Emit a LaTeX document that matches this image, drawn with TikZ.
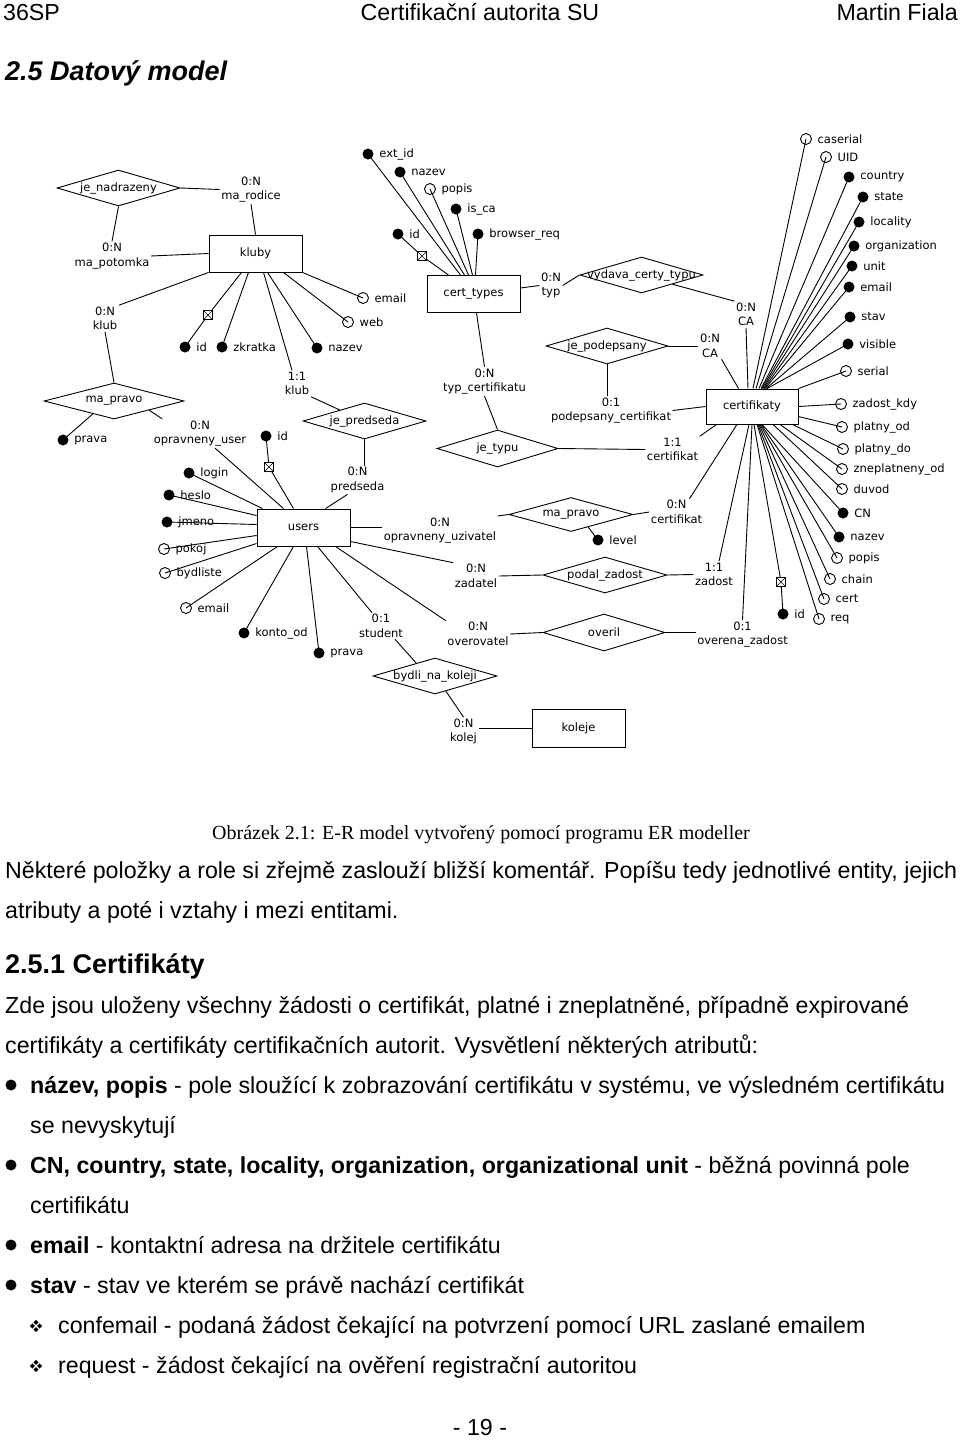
\documentclass[tikz,border=0pt]{standalone}
\usepackage{fontspec}
\setmainfont{Liberation Sans}
\newfontfamily\dgfont{DejaVu Sans}
\newfontfamily\capfont{Liberation Serif}
\usetikzlibrary{shapes.geometric,calc}
\newcommand\bt{\fontsize{23.2}{27}\selectfont}
\begin{document}
\begin{tikzpicture}[x=1pt,y=-1pt,
  dg/.style={font=\dgfont\fontsize{11.5}{14.5}\selectfont},
  ln/.style={line width=0.9},
  ent/.style={draw, line width=0.9, minimum width=93, minimum height=37, inner sep=0, dg},
  rel/.style={diamond, draw, line width=0.9, minimum width=123, minimum height=36, inner sep=0, label={[dg, inner sep=0]center:#1}},
  card/.style={dg, align=center, inner sep=1.5},
  fatt/.style={circle, fill, minimum size=11, inner sep=0, label={[dg, inner sep=0.5, xshift=5]right:#1}},
  oatt/.style={circle, draw, line width=0.9, minimum size=11, inner sep=0, label={[dg, inner sep=0.5, xshift=5]right:#1}},
  keyb/.style={draw, line width=0.8, fill=white, minimum size=9, inner sep=0, path picture={\draw[line width=0.6] (path picture bounding box.north west) -- (path picture bounding box.south east) (path picture bounding box.north east) -- (path picture bounding box.south west);}},
  bul/.style={circle, fill, minimum size=11, inner sep=0},
  dbul/.style={diamond, fill, minimum size=12.5, inner sep=0},
  txt/.style={anchor=base west, inner sep=0, font=\bt}
]
\useasboundingbox (0,0) rectangle (960,1440);

% ---------- header ----------
\node[txt] (h1) at (3,20) {36SP};
\node[txt, anchor=base] (h2) at (480,20) {Certifikační autorita SU};
\node[txt, anchor=base east] (h3) at (958,20) {Martin Fiala};
\node[txt, font=\fontsize{27}{30}\selectfont\bfseries\itshape] (h4) at (5,80) {2.5 Datový model};

% ---------- entities ----------
\node[ent] (kluby) at (255.5,253.5) {kluby};
\node[ent] (users) at (303.5,527.5) {users};
\node[ent] (ct) at (473.5,294) {cert\_types};
\node[ent, minimum width=92, minimum height=35] (cert) at (752,406.5) {certifikaty};
\node[ent, minimum height=38] (koleje) at (578.5,728) {koleje};

% ---------- relationships ----------
\node[rel=je\_nadrazeny] (jn) at (118.5,188) {};
\node[rel=ma\_pravo, minimum width=140] (mp1) at (114,401) {};
\node[rel=je\_predseda] (jpr) at (364.5,421) {};
\node[rel=je\_typu, minimum width=121, minimum height=37] (jt) at (497.5,448.5) {};
\node[rel=vydava\_certy\_typu] (vd) at (641.5,275) {};
\node[rel=je\_podepsany, minimum width=122] (jp) at (607,346) {};
\node[rel=ma\_pravo, minimum width=124, minimum height=34] (mp2) at (571,514.5) {};
\node[rel=podal\_zadost, minimum width=124] (pz) at (605,575) {};
\node[rel=overil, minimum width=122, minimum height=37] (ov) at (604,632.5) {};
\node[rel=bydli\_na\_koleji, minimum width=124] (bn) at (435,676) {};

% ---------- cardinalities ----------
\node[card] (crod) at (251,189.5) {0:N\\ma\_rodice};
\node[card] (cpot) at (112,256) {0:N\\ma\_potomka};
\node[card] (ckl1) at (105,318.5) {0:N\\klub};
\node[card] (cousr) at (200,433.5) {0:N\\opravneny\_user};
\node[card] (ckl2) at (297,383.5) {1:1\\klub};
\node[card] (cpred) at (357.5,480) {0:N\\predseda};
\node[card] (couz) at (440,530.5) {0:N\\opravneny\_uzivatel};
\node[card] (czad) at (476,576) {0:N\\zadatel};
\node[card] (cstud) at (381,626) {0:1\\student};
\node[card] (cover) at (478,634) {0:N\\overovatel};
\node[card] (ckolej) at (463.5,731.5) {0:N\\kolej};
\node[card] (ctypc) at (484.5,381.5) {0:N\\typ\_certifikatu};
\node[card] (ctyp) at (551,285.5) {0:N\\typ};
\node[card] (cca1) at (746,314.5) {0:N\\CA};
\node[card] (cca2) at (710,346) {0:N\\CA};
\node[card] (cpodc) at (611,410.5) {0:1\\podepsany\_certifikat};
\node[card] (ccert1) at (672.5,449.5) {1:1\\certifikat};
\node[card] (ccert0) at (676.5,512) {0:N\\certifikat};
\node[card] (czadost) at (714,574.5) {1:1\\zadost};
\node[card] (coz) at (742.5,634.5) {0:1\\overena\_zadost};

% ---------- attributes ----------
\node[fatt=prava] (mprav) at (63,440) {};
% kluby
\node[fatt=id] (kid) at (185,347) {};
\node[keyb] (kidk) at (208,315) {};
\node[fatt=zkratka] (kzk) at (222,347) {};
\node[fatt=nazev] (knaz) at (317,348) {};
\node[oatt=web] (kweb) at (348,322) {};
\node[oatt=email] (kem) at (363,298) {};
% users
\node[fatt=id] (uid) at (266,436) {};
\node[keyb] (uidk) at (269,467) {};
\node[fatt=login] (ulog) at (189,473) {};
\node[fatt=heslo] (uhes) at (169,495) {};
\node[fatt=jmeno] (ujm) at (167,522) {};
\node[oatt=pokoj] (upok) at (164,549) {};
\node[oatt=bydliste] (ubyd) at (165,573) {};
\node[oatt=email] (uem) at (186,608) {};
\node[fatt=konto\_od] (ukon) at (244,633) {};
\node[fatt=prava] (upr) at (319,653) {};
% ma_pravo 2
\node[fatt=level] (lvl) at (598,540) {};
% cert_types
\node[fatt=ext\_id] (ctext) at (368,154) {};
\node[fatt=nazev] (ctnaz) at (400,172) {};
\node[oatt=popis] (ctpop) at (430,189) {};
\node[fatt=is\_ca] (ctis) at (456,209) {};
\node[fatt=browser\_req] (ctbr) at (478,234) {};
\node[fatt=id] (ctid) at (398,234) {};
\node[keyb] (ctidk) at (422,256) {};
% certifikaty
\node[oatt=caserial] (acas) at (806,139) {};
\node[oatt=UID] (auid) at (826,157) {};
\node[fatt=country] (acou) at (849,177) {};
\node[fatt=state] (asta) at (863,197) {};
\node[fatt=locality] (aloc) at (859,222) {};
\node[fatt=organization] (aorg) at (854,246) {};
\node[fatt=unit] (auni) at (852,266) {};
\node[fatt=email] (aema) at (849,287) {};
\node[fatt=stav] (asta2) at (850,317) {};
\node[fatt=visible] (avis) at (848,344) {};
\node[oatt=serial] (aser) at (846,371) {};
\node[oatt=zadost\_kdy] (azk) at (841,404) {};
\node[oatt=platny\_od] (apod) at (842,427) {};
\node[oatt=platny\_do] (apdo) at (843,449) {};
\node[oatt=zneplatneny\_od] (azn) at (842,469) {};
\node[oatt=duvod] (aduv) at (842,489) {};
\node[fatt=CN] (acn) at (843,513) {};
\node[fatt=nazev] (anaz) at (839,537) {};
\node[oatt=popis] (apop) at (837,558) {};
\node[oatt=chain] (achn) at (830,579) {};
\node[oatt=cert] (acrt) at (824,599) {};
\node[oatt=req] (areq) at (819,619) {};
\node[fatt=id] (aid) at (783,614) {};
\node[keyb] (aidk) at (781,582) {};

% ---------- connectors ----------
\begin{scope}[ln]
\draw (jn.east) -- (crod.west);
\draw (crod.south) -- (kluby.north);
\draw (jn.south) -- (cpot.north);
\draw (cpot.east) -- (kluby.west);
\draw (kluby.south west) -- (ckl1.north east);
\draw (ckl1.south) -- (mp1.north);
\draw ($(mp1.west)!0.7!(mp1.south)$) -- (mprav.center);
\draw (mp1.south east) -- ($(cousr.north west)+(10,0)$);
\draw ($(cousr.south)+(15,0)$) -- ($(users.north)+(-20,0)$);
% kluby
\draw (kid.center) -- (kidk) -- ($(kluby.south)+(-14,0)$);
\draw (kzk.center) -- ($(kluby.south)+(-7,0)$);
\draw (knaz.center) -- ($(kluby.south)+(12,0)$);
\draw (kweb.center) -- ($(kluby.south)+(28,0)$);
\draw (kem.center) -- (kluby.south east);
\draw ($(kluby.south)+(8,0)$) -- ($(ckl2.north)+(-5,0)$);
\draw (ckl2.south east) -- ($(jpr.north west)!0.2!(jpr.north)$);
\draw (jpr.south) -- (jpr.south |- cpred.north);
\draw ($(cpred.south)+(-10,0)$) -- ($(users.north)+(22,0)$);
% users
\draw (uid.center) -- (uidk) -- ($(users.north)+(-10,0)$);
\draw (ulog.center) -- ($(users.north west)+(6,0)$);
\draw (uhes.center) -- ($(users.west)+(0,-12)$);
\draw (ujm.center) -- ($(users.west)+(0,-3)$);
\draw (upok.center) -- ($(users.west)+(0,8)$);
\draw (ubyd.center) -- ($(users.west)+(0,16)$);
\draw (uem.center) -- ($(users.south)+(-26,0)$);
\draw (ukon.center) -- ($(users.south)+(-10,0)$);
\draw (upr.center) -- ($(users.south)+(3,0)$);
\draw (users.east) -- (couz.west |- users.east);
\draw (couz.north east) -- (mp2.west);
\draw ($(users.east)+(0,14)$) -- (czad.north west);
\draw (czad.east) -- (pz.west);
\draw ($(users.south)+(14,0)$) -- ($(cstud.north)+(-9,0)$);
\draw ($(cstud.south)+(14,0)$) -- ($(bn.north)!0.6!(bn.north west)$);
\draw ($(bn.south)!0.35!(bn.south east)$) -- (ckolej.north);
\draw (ckolej.east |- koleje.west) -- (koleje.west);
\draw ($(users.south)+(32,0)$) -- (cover.north west);
\draw (cover.east) -- (ov.west);
% relationships to certifikaty
\draw ($(mp2.south)!0.55!(mp2.south east)$) -- (lvl.center);
\draw (mp2.east) -- (ccert0.west);
\draw ($(ccert0.north)+(13,0)$) -- ($(cert.south)+(-15,0)$);
\draw (pz.east) -- (czadost.west);
\draw ($(czadost.north)+(5,0)$) -- ($(cert.south)+(-3,0)$);
\draw (ov.east) -- (coz.west |- ov.east);
\draw (coz.north) -- (cert.south);
% cert_types
\draw (ctid.center) -- (ctidk) -- ($(ct.north)+(-25,0)$);
\draw (ctext.center) -- ($(ct.north)+(-13,0)$);
\draw (ctnaz.center) -- ($(ct.north)+(-9,0)$);
\draw (ctpop.center) -- ($(ct.north)+(-5,0)$);
\draw (ctis.center) -- ($(ct.north)+(-1,0)$);
\draw (ctbr.center) -- ($(ct.north)+(2,0)$);
\draw ($(ct.south)+(3,0)$) -- (ctypc.north);
\draw (ctypc.south) -- (jt.north);
\draw ($(ct.east)+(0,-6)$) -- (ctyp.west);
\draw (ctyp.east) -- (vd.west);
\draw (vd.south east) -- (cca1.north west);
\draw (cca1.south) -- ($(cert.north)+(-4,0)$);
\draw (jp.east) -- (cca2.west);
\draw (cca2.south east) -- ($(cert.north west)+(33,0)$);
\draw (jp.south) -- (jp.south |- cpodc.north);
\draw (cpodc.east) -- (cert.west);
\draw (jt.east) -- (ccert1.west);
\draw (ccert1.north east) -- ($(cert.south west)+(11,0)$);
% certifikaty attributes
\draw (acas.center) -- ($(cert.north)+(1,0)$);
\draw (auid.center) -- ($(cert.north)+(4,0)$);
\draw (acou.center) -- ($(cert.north)+(7,0)$);
\draw (asta.center) -- ($(cert.north)+(9,0)$);
\draw (aloc.center) -- ($(cert.north)+(10,0)$);
\draw (aorg.center) -- ($(cert.north)+(11,0)$);
\draw (auni.center) -- ($(cert.north)+(12,0)$);
\draw (aema.center) -- ($(cert.north)+(13,0)$);
\draw (asta2.center) -- ($(cert.north)+(14,0)$);
\draw (avis.center) -- ($(cert.north)+(15,0)$);
\draw (aser.center) -- (cert.north east);
\draw (azk.center) -- (cert.east);
\draw (apod.center) -- ($(cert.east)+(0,10)$);
\draw (apdo.center) -- ($(cert.south east)+(-6,0)$);
\draw (azn.center) -- ($(cert.south)+(28,0)$);
\draw (aduv.center) -- ($(cert.south)+(21,0)$);
\draw (acn.center) -- ($(cert.south)+(10,0)$);
\draw (anaz.center) -- ($(cert.south)+(9,0)$);
\draw (apop.center) -- ($(cert.south)+(8,0)$);
\draw (achn.center) -- ($(cert.south)+(7,0)$);
\draw (acrt.center) -- ($(cert.south)+(6,0)$);
\draw (areq.center) -- ($(cert.south)+(5,0)$);
\draw (aid.center) -- (aidk) -- ($(cert.south)+(2,0)$);
\end{scope}

% ---------- caption and text ----------
\node[anchor=base, inner sep=0, font=\capfont\fontsize{20}{24}\selectfont] (cap) at (481,839) {Obrázek 2.1: E-R model vytvořený pomocí programu ER modeller};
\node[txt] (t1) at (5,878) {Některé položky a role si zřejmě zaslouží bližší komentář. Popíšu tedy jednotlivé entity, jejich};
\node[txt] (t2) at (5,918) {atributy a poté i vztahy i mezi entitami.};
\node[txt, font=\fontsize{27}{30}\selectfont\bfseries] (t3) at (5,973) {2.5.1 Certifikáty};
\node[txt] (t4) at (5,1013) {Zde jsou uloženy všechny žádosti o certifikát, platné i zneplatněné, případně expirované};
\node[txt] (t5) at (5,1053) {certifikáty a certifikáty certifikačních autorit. Vysvětlení některých atributů:};
\node[bul] (b1) at (11,1085) {};
\node[txt] (t6) at (30,1093) {\textbf{název, popis} - pole sloužící k zobrazování certifikátu v systému, ve výsledném certifikátu};
\node[txt] (t7) at (30,1133) {se nevyskytují};
\node[bul] (b2) at (11,1165) {};
\node[txt] (t8) at (30,1173) {\textbf{CN, country, state, locality, organization, organizational unit} - běžná povinná pole};
\node[txt] (t9) at (30,1213) {certifikátu};
\node[bul] (b3) at (11,1245) {};
\node[txt] (t10) at (30,1253) {\textbf{email} - kontaktní adresa na držitele certifikátu};
\node[bul] (b4) at (11,1285) {};
\node[txt] (t11) at (30,1293) {\textbf{stav} - stav ve kterém se právě nachází certifikát};
\node[dbul] (d1) at (36,1326) {};
\draw[white, line width=1.1] (d1.north west) -- (d1.south east) (d1.north east) -- (d1.south west);
\node[txt] (t12) at (58,1333) {confemail - podaná žádost čekající na potvrzení pomocí URL zaslané emailem};
\node[dbul] (d2) at (36,1366) {};
\draw[white, line width=1.1] (d2.north west) -- (d2.south east) (d2.north east) -- (d2.south west);
\node[txt] (t13) at (58,1373) {request - žádost čekající na ověření registrační autoritou};
\node[txt, anchor=base] (pg) at (480,1435) {- 19 -};
\end{tikzpicture}
\end{document}
